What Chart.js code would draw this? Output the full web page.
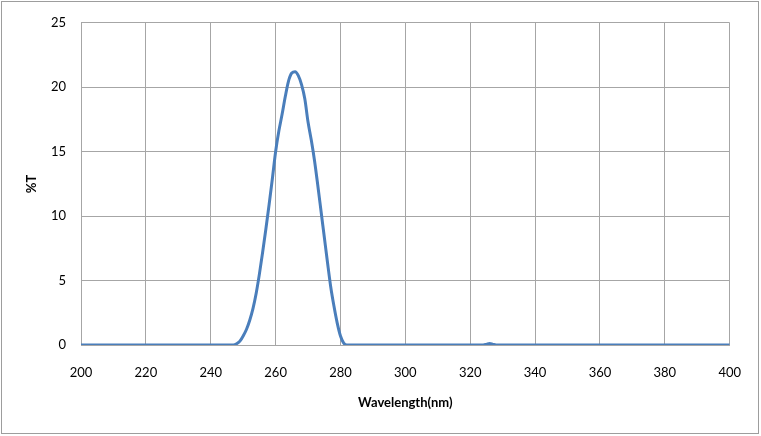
<!DOCTYPE html>
<html>
<head>
<meta charset="utf-8">
<script src="https://cdn.jsdelivr.net/npm/chart.js@4/dist/chart.umd.min.js"></script>
<style>
  html, body { margin: 0; padding: 0; background: #fff; }
  #wrap { width: 761px; height: 436px; position: relative; }
</style>
</head>
<body>
<div id="wrap"><canvas id="myChart"></canvas></div>
<script>
// wavelength (nm) and transmission (%T)
const wavelength = [
  200, 210, 220, 230, 240, 245, 247, 248, 249, 250, 251, 252, 253, 254, 255,
  256, 257, 258, 259, 260, 261, 262, 263, 264, 265, 266, 267, 268, 269, 270,
  271, 272, 273, 274, 275, 276, 277, 278, 279, 280, 281, 282, 290, 300, 310,
  320, 324, 325, 326, 327, 328, 340, 360, 380, 400,
];
const transmission = [
  0, 0, 0, 0, 0, 0, 0, 0.1, 0.3, 0.7, 1.2, 1.9, 2.8, 4.0, 5.5,
  7.2, 9.0, 10.9, 12.9, 15.0, 16.6, 17.9, 19.3, 20.5, 21.1, 21.2, 20.9, 20.2, 19.1, 17.3,
  15.9, 14.3, 12.4, 10.4, 8.4, 6.4, 4.5, 3.0, 1.7, 0.7, 0.15, 0, 0, 0, 0,
  0, 0, 0.05, 0.12, 0.05, 0, 0, 0, 0, 0,
];

const points = wavelength.map((w, i) => ({ x: w, y: transmission[i] }));

const outerBorder = {
  id: "outerBorder",
  beforeDraw(chart) {
    const ctx = chart.ctx;
    ctx.save();
    ctx.fillStyle = "#fff";
    ctx.fillRect(0, 0, chart.width, chart.height);
    ctx.strokeStyle = "#9d9d9d";
    ctx.lineWidth = 1;
    ctx.strokeRect(1.5, 1.5, 757, 432);
    ctx.restore();
  },
};

const gridGrey = "#a6a6a6";

new Chart(document.getElementById("myChart"), {
  type: "line",
  data: {
    datasets: [
      {
        label: "%T",
        data: points,
        borderColor: "#4a7ebb",
        borderWidth: 3,
        pointRadius: 0,
        cubicInterpolationMode: "monotone",
        fill: false,
      },
    ],
  },
  options: {
    responsive: true,
    maintainAspectRatio: false,
    animation: false,
    layout: { padding: { top: 19, right: 30, left: 0, bottom: 0 } },
    plugins: {
      legend: { display: false },
      tooltip: { enabled: false },
    },
    scales: {
      x: {
        type: "linear",
        min: 200,
        max: 400,
        ticks: {
          stepSize: 20,
          padding: 20,
          color: "#000",
          font: { family: "Lato", size: 13 },
          maxRotation: 0,
        },
        grid: { color: gridGrey, drawTicks: false },
        border: { color: gridGrey },
        title: {
          display: true,
          text: "Wavelength(nm)",
          color: "#000",
          font: { family: "Lato", size: 13, weight: "bold" },
          padding: { top: 0, bottom: 25 },
        },
        afterFit(scale) {
          scale.height = 436 - 345;
        },
      },
      y: {
        min: 0,
        max: 25,
        ticks: {
          stepSize: 5,
          padding: 15,
          color: "#000",
          font: { family: "Lato", size: 13 },
        },
        grid: { color: gridGrey, drawTicks: false },
        border: { color: gridGrey },
        title: {
          display: true,
          text: "%T",
          color: "#000",
          font: { family: "Lato", size: 13, weight: "bold" },
          padding: { top: 24, bottom: 0 },
        },
        afterFit(scale) {
          scale.width = 81;
        },
      },
    },
  },
  plugins: [outerBorder],
});
</script>
</body>
</html>
